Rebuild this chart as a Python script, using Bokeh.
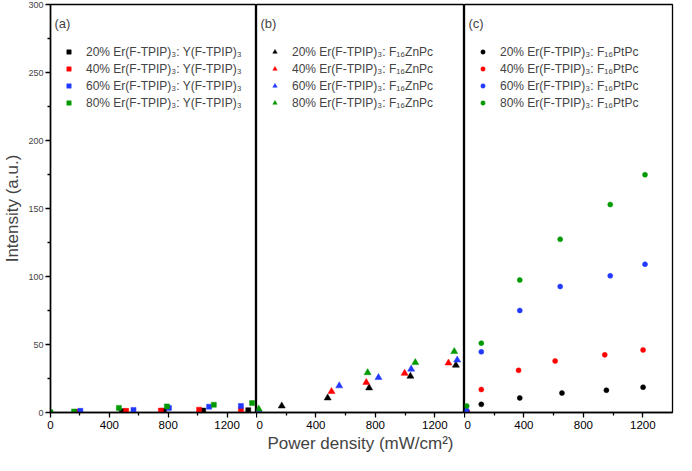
from bokeh.plotting import figure
from bokeh.layouts import row
from bokeh.models import Range1d, FixedTicker, Legend, LegendItem, Label
from bokeh.embed import file_html
from bokeh.resources import INLINE

FONT = "Liberation Sans"

# ---- data ----
x_ticks = [0, 400, 800, 1200]
x_minor = [200, 600, 1000]
y_ticks = [0, 50, 100, 150, 200, 250, 300]
y_minor = [25, 75, 125, 175, 225, 275]

colors = ["#000000", "#FF0000", "#2239FF", "#009A00"]
percent = ["20%", "40%", "60%", "80%"]

# panel (a): Er(F-TPIP)3 : Y(F-TPIP)3  (squares)
a20_x = [190, 485, 772, 1038, 1344]
a20_y = [0.3, 1.0, 1.2, 1.4, 1.7]
a40_x = [181, 514, 750, 1010, 1294]
a40_y = [0.5, 1.2, 1.4, 2.1, 2.1]
a60_x = [203, 564, 805, 1078, 1294]
a60_y = [1.2, 1.9, 3.4, 4.3, 4.8]
a80_x = [0, 160, 465, 791, 1110, 1370]
a80_y = [0.2, 0.7, 3.4, 4.5, 5.7, 6.9]

# panel (b): Er(F-TPIP)3 : F16ZnPc  (triangles)
b20_x = [15, 170, 479, 758, 1036, 1342]
b20_y = [0.5, 4.8, 10.7, 18.1, 26.7, 34.8]
b40_x = [15, 505, 739, 997, 1292]
b40_y = [0.8, 15.5, 22.1, 28.8, 36.4]
b60_x = [15, 557, 821, 1041, 1351]
b60_y = [1.2, 19.6, 25.7, 31.9, 38.6]
b80_x = [15, 748, 1069, 1331]
b80_y = [2.6, 29.3, 36.7, 44.8]

# panel (c): Er(F-TPIP)3 : F16PtPc  (circles)
c20_x = [15, 113, 372, 656, 955, 1202]
c20_y = [0.0, 6.0, 10.7, 14.3, 16.4, 18.6]
c40_x = [20, 113, 364, 610, 944, 1202]
c40_y = [0.5, 16.9, 31.0, 37.9, 42.4, 46.0]
c60_x = [15, 113, 372, 644, 981, 1215]
c60_y = [1.5, 44.6, 75.0, 92.6, 100.5, 109.0]
c80_x = [15, 113, 372, 644, 981, 1215]
c80_y = [4.8, 51.0, 97.4, 127.4, 152.9, 174.8]

host_a = "Y(F-TPIP)\u2083"
host_b = "F\u2081\u2086ZnPc"
host_c = "F\u2081\u2086PtPc"

FRAME_W = 208
HEIGHT = 455
TOP = 4
BOTTOM = 40
LEFT = 48
y_range = Range1d(0, 300)


def make_panel(tag, series, marker, size, host, width, left, right, show_y, xlabel):
    p = figure(width=width, height=HEIGHT,
               x_range=Range1d(0, 1400), y_range=y_range,
               output_backend="svg", toolbar_location=None,
               y_axis_location="left" if show_y else None,
               min_border_left=left, min_border_right=right,
               min_border_top=TOP, min_border_bottom=BOTTOM)
    p.xgrid.visible = False
    p.ygrid.visible = False
    p.outline_line_color = "black"
    p.outline_line_width = 1.3
    p.background_fill_color = "white"
    p.border_fill_color = "white"

    xa = p.xaxis[0]
    xa.ticker = FixedTicker(ticks=x_ticks, minor_ticks=x_minor)
    xa.axis_line_width = 1.5
    xa.major_tick_in = 0
    xa.major_tick_out = 5
    xa.minor_tick_in = 0
    xa.minor_tick_out = 3
    xa.major_tick_line_width = 1.3
    xa.minor_tick_line_width = 1.3
    xa.major_label_text_font = FONT
    xa.major_label_text_font_size = "11.5px"
    xa.major_label_text_color = "black"
    xa.major_label_standoff = 3
    if xlabel:
        xa.axis_label = xlabel
        xa.axis_label_text_font = FONT
        xa.axis_label_text_font_size = "17px"
        xa.axis_label_text_font_style = "normal"
        xa.axis_label_standoff = 2

    if show_y:
        ya = p.yaxis[0]
        ya.ticker = FixedTicker(ticks=y_ticks, minor_ticks=y_minor)
        ya.axis_line_width = 1.5
        ya.major_tick_in = 0
        ya.major_tick_out = 5
        ya.minor_tick_in = 0
        ya.minor_tick_out = 3
        ya.major_tick_line_width = 1.3
        ya.minor_tick_line_width = 1.3
        ya.major_label_text_font = FONT
        ya.major_label_text_font_size = "9px"
        ya.major_label_standoff = 2
        ya.axis_label = "Intensity (a.u.)"
        ya.axis_label_text_font = FONT
        ya.axis_label_text_font_size = "17px"
        ya.axis_label_text_font_style = "normal"
        ya.axis_label_standoff = 3

    items = []
    for (xs, ys), c, pc in zip(series, colors, percent):
        r = p.scatter(xs, ys, marker=marker, size=size, fill_color=c,
                      line_color=c, line_width=0.5)
        items.append(LegendItem(label=f"{pc} Er(F-TPIP)\u2083: {host}", renderers=[r]))

    leg = Legend(items=items, margin=0, padding=0,
                 spacing=0, glyph_width=11, glyph_height=11, label_height=17,
                 label_standoff=12, label_text_font=FONT, label_text_font_size="12px",
                 background_fill_alpha=0, border_line_alpha=0,
                 location="top_left")
    leg.location = (13, 0)
    p.add_layout(leg)
    p._legend_ref = leg

    p.add_layout(Label(x=4, y=0, x_units="screen", y_units="screen",
                       text=tag, text_font=FONT, text_font_size="13px",
                       text_baseline="middle", name="tag"))
    return p


pa = make_panel("(a)", [(a20_x, a20_y), (a40_x, a40_y), (a60_x, a60_y), (a80_x, a80_y)],
                "square", 5, host_a, LEFT + FRAME_W, LEFT, 0, True, None)
pb = make_panel("(b)", [(b20_x, b20_y), (b40_x, b40_y), (b60_x, b60_y), (b80_x, b80_y)],
                "triangle", 7, host_b, FRAME_W, 0, 0, False, "Power density (mW/cm\u00b2)")
pc = make_panel("(c)", [(c20_x, c20_y), (c40_x, c40_y), (c60_x, c60_y), (c80_x, c80_y)],
                "circle", 5, host_c, FRAME_W + 2, 0, 2, False, None)

# place legends / tags relative to the frame top (frame height estimated)
FRAME_H = HEIGHT - TOP - 50
for fig in (pa, pb, pc):
    leg = fig._legend_ref
    leg.location = (13, FRAME_H - 32 - 68)
    for lab in fig.select(name="tag"):
        lab.y = FRAME_H - 11.5

p = row(pa, pb, pc, spacing=0)

open("out.html", "w").write(file_html(p, INLINE))
